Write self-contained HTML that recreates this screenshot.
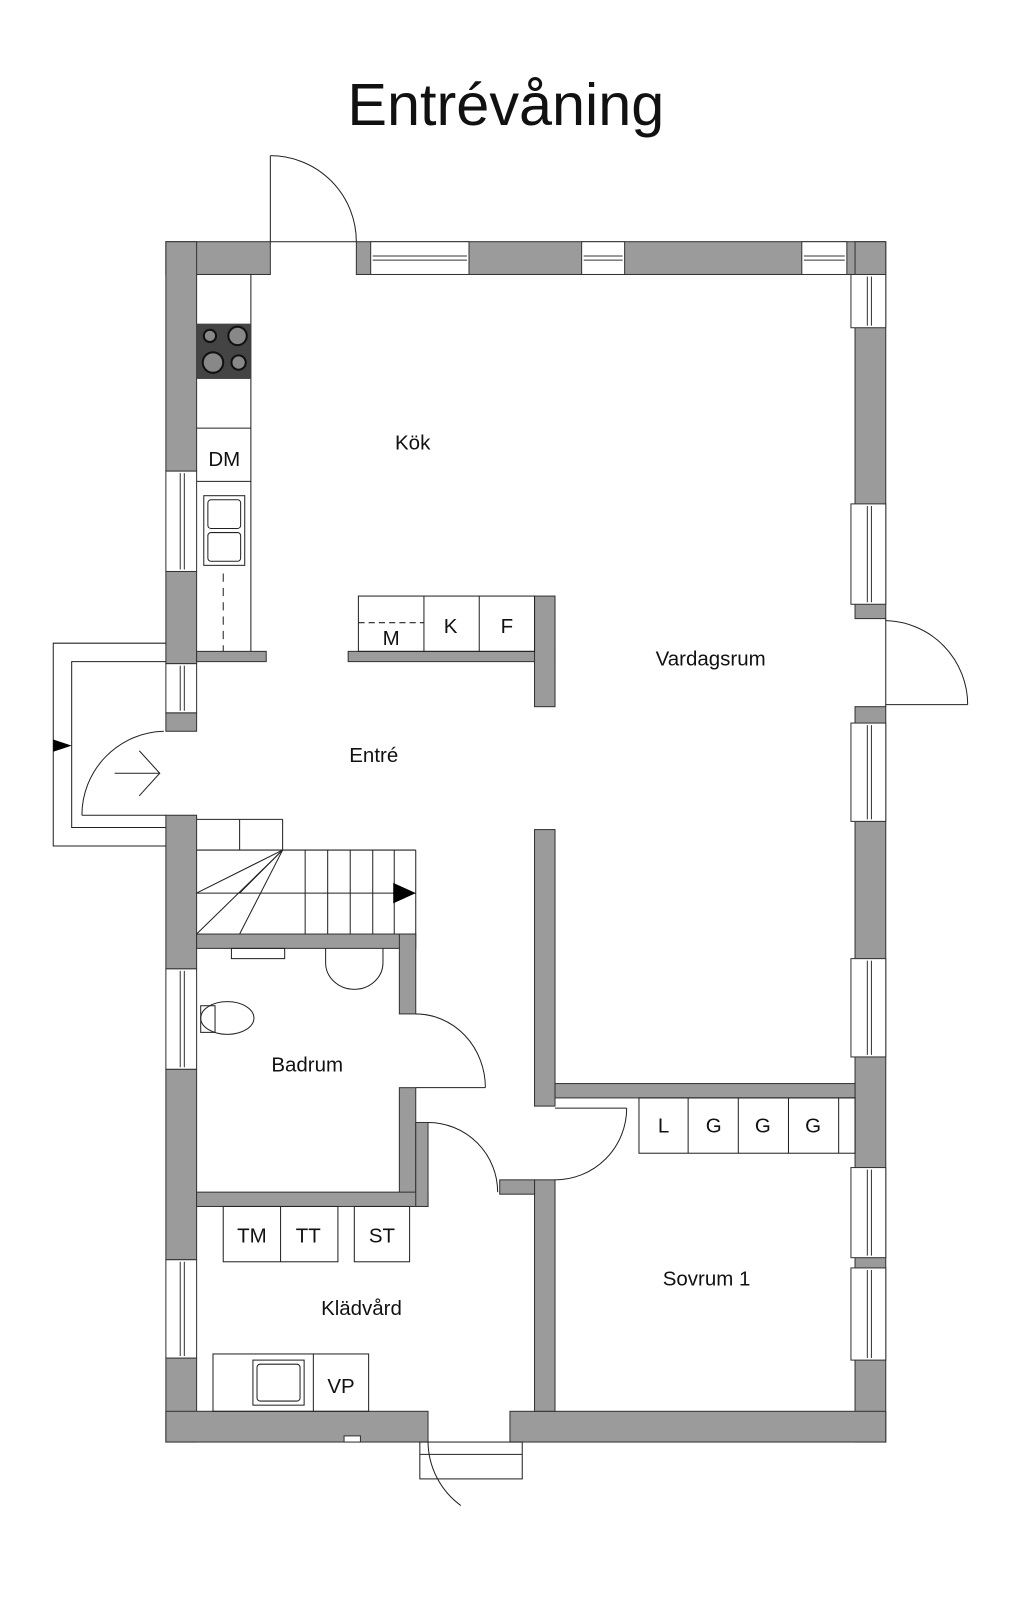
<!DOCTYPE html>
<html><head><meta charset="utf-8"><style>
html,body{margin:0;padding:0;background:#fff}
svg{display:block}
text{font-family:"Liberation Sans",sans-serif;fill:#111}
</style></head><body>
<svg width="1024" height="1610" viewBox="0 0 1000 1572" preserveAspectRatio="none" xmlns="http://www.w3.org/2000/svg">
<rect width="1000" height="1572" fill="#fff"/>
<text x="494" y="122" font-size="58" text-anchor="middle">Entrévåning</text>
<g fill="#9b9b9b" stroke="#333" stroke-width="1">
<rect x="162" y="236" width="102" height="32"/>
<rect x="348" y="236" width="517" height="32"/>
<rect x="162" y="236" width="30" height="224"/>
<rect x="162" y="558" width="30" height="90"/>
<rect x="162" y="696" width="30" height="18"/>
<rect x="162" y="796" width="30" height="150"/>
<rect x="162" y="1044" width="30" height="186"/>
<rect x="162" y="1326" width="30" height="82"/>
<rect x="835" y="236" width="30" height="368"/>
<rect x="835" y="690" width="30" height="718"/>
<rect x="162" y="1378" width="256" height="30"/>
<rect x="498" y="1378" width="367" height="30"/>
<rect x="192" y="636" width="68" height="10"/>
<rect x="340" y="636" width="202" height="10"/>
<rect x="522" y="582" width="20" height="108"/>
<rect x="522" y="810" width="20" height="270"/>
<rect x="542" y="1058" width="293" height="14"/>
<rect x="522" y="1152" width="20" height="226"/>
<rect x="488" y="1152" width="34" height="14"/>
<rect x="192" y="912" width="214" height="14"/>
<rect x="390" y="912" width="16" height="78"/>
<rect x="390" y="1062" width="16" height="104"/>
<rect x="192" y="1164" width="226" height="14"/>
<rect x="406" y="1096" width="12" height="82"/>
</g>
<g fill="#fff" stroke="#333" stroke-width="1">
<rect x="362" y="236" width="96" height="32"/><line x1="364" y1="250" x2="456" y2="250"/><line x1="364" y1="254" x2="456" y2="254"/>
<rect x="568" y="236" width="42" height="32"/><line x1="570" y1="250" x2="608" y2="250"/><line x1="570" y1="254" x2="608" y2="254"/>
<rect x="783" y="236" width="44" height="32"/><line x1="785" y1="250" x2="825" y2="250"/><line x1="785" y1="254" x2="825" y2="254"/>
<rect x="162" y="460" width="30" height="98"/><line x1="176" y1="462" x2="176" y2="556"/><line x1="180" y1="462" x2="180" y2="556"/>
<rect x="162" y="648" width="30" height="48"/><line x1="176" y1="650" x2="176" y2="694"/><line x1="180" y1="650" x2="180" y2="694"/>
<rect x="162" y="946" width="30" height="98"/><line x1="176" y1="948" x2="176" y2="1042"/><line x1="180" y1="948" x2="180" y2="1042"/>
<rect x="162" y="1230" width="30" height="96"/><line x1="176" y1="1232" x2="176" y2="1324"/><line x1="180" y1="1232" x2="180" y2="1324"/>
<rect x="831" y="268" width="34" height="52"/><line x1="847" y1="270" x2="847" y2="318"/><line x1="851" y1="270" x2="851" y2="318"/>
<rect x="831" y="492" width="34" height="98"/><line x1="847" y1="494" x2="847" y2="588"/><line x1="851" y1="494" x2="851" y2="588"/>
<rect x="831" y="706" width="34" height="96"/><line x1="847" y1="708" x2="847" y2="800"/><line x1="851" y1="708" x2="851" y2="800"/>
<rect x="831" y="936" width="34" height="96"/><line x1="847" y1="938" x2="847" y2="1030"/><line x1="851" y1="938" x2="851" y2="1030"/>
<rect x="831" y="1140" width="34" height="88"/><line x1="847" y1="1142" x2="847" y2="1226"/><line x1="851" y1="1142" x2="851" y2="1226"/>
<rect x="831" y="1238" width="34" height="90"/><line x1="847" y1="1240" x2="847" y2="1326"/><line x1="851" y1="1240" x2="851" y2="1326"/>
<rect x="336" y="1402" width="16" height="6"/>
</g>
<g fill="none" stroke="#222" stroke-width="1">
<line x1="264" y1="236" x2="348" y2="236"/>
<line x1="264" y1="236" x2="264" y2="152"/><path d="M264 152 A84 84 0 0 1 348 236"/>
<line x1="865" y1="604" x2="865" y2="690"/><line x1="865" y1="688" x2="945" y2="688"/><path d="M865 606 A82 82 0 0 1 945 688"/>
<path d="M406 990 A68 72 0 0 1 474 1062"/><line x1="406" y1="1062" x2="474" y2="1062"/>
<path d="M418 1096 A68 68 0 0 1 486 1164"/>
<path d="M542 1152 A70 70 0 0 0 612 1082"/><line x1="542" y1="1082" x2="612" y2="1082"/>
<path d="M160 714 A82 82 0 0 0 80 796"/><line x1="80" y1="796" x2="162" y2="796"/>
<line x1="112" y1="755" x2="156" y2="755"/><polyline points="136,733 156,755 136,777"/>
<polyline points="162,628 52,628 52,826 162,826"/>
<polyline points="162,646 70,646 70,808 162,808"/>
<rect x="410" y="1408" width="100" height="36"/><line x1="410" y1="1420" x2="510" y2="1420"/><path d="M418 1408 A78 78 0 0 0 450 1470"/>
<line x1="245" y1="268" x2="245" y2="636"/>
<line x1="192" y1="418" x2="245" y2="418"/>
<line x1="192" y1="470" x2="245" y2="470"/>
<line x1="218" y1="560" x2="218" y2="636" stroke-dasharray="8 6"/>
<rect x="199" y="484" width="40" height="68"/><rect x="203" y="488" width="32" height="28" rx="3"/><rect x="203" y="520" width="32" height="28" rx="3"/>
<rect x="350" y="582" width="172" height="54"/><line x1="414" y1="582" x2="414" y2="636"/><line x1="468" y1="582" x2="468" y2="636"/>
<line x1="350" y1="608" x2="414" y2="608" stroke-dasharray="6 4"/>
<line x1="192" y1="800" x2="276" y2="800"/><line x1="276" y1="800" x2="276" y2="830"/>
<line x1="192" y1="830" x2="406" y2="830"/><line x1="406" y1="830" x2="406" y2="912"/>
<line x1="192" y1="872" x2="406" y2="872"/>
<line x1="234" y1="800" x2="234" y2="830"/>
<line x1="276" y1="830" x2="192" y2="912"/><line x1="276" y1="830" x2="234" y2="912"/><line x1="276" y1="830" x2="192" y2="872"/><line x1="276" y1="830" x2="234" y2="872"/>
<line x1="298" y1="830" x2="298" y2="912"/><line x1="320" y1="830" x2="320" y2="912"/><line x1="342" y1="830" x2="342" y2="912"/><line x1="364" y1="830" x2="364" y2="912"/><line x1="385" y1="830" x2="385" y2="912"/>
<rect x="226" y="926" width="52" height="10"/>
<path d="M318 926 L318 940 A28 26 0 0 0 374 940 L374 926"/>
<ellipse cx="222" cy="994" rx="26" ry="16"/><rect x="196" y="982" width="14" height="26"/>
<rect x="218" y="1178" width="112" height="54"/><line x1="274" y1="1178" x2="274" y2="1232"/>
<rect x="346" y="1178" width="54" height="54"/>
<rect x="208" y="1322" width="152" height="56"/><line x1="306" y1="1322" x2="306" y2="1378"/>
<rect x="247" y="1328" width="50" height="44"/><rect x="251" y="1332" width="42" height="36" rx="3"/>
<rect x="624" y="1072" width="211" height="54"/><line x1="672" y1="1072" x2="672" y2="1126"/><line x1="721" y1="1072" x2="721" y2="1126"/><line x1="770" y1="1072" x2="770" y2="1126"/><line x1="819" y1="1072" x2="819" y2="1126"/>
</g>
<rect x="192" y="316" width="53" height="54" fill="#444"/>
<g fill="#888" stroke="#111" stroke-width="2"><circle cx="205" cy="328" r="6"/><circle cx="232" cy="328" r="9"/><circle cx="208" cy="354" r="10"/><circle cx="233" cy="354" r="7"/></g>
<polygon points="52,722 70,728 52,734" fill="#000"/>
<polygon points="384,862 406,872 384,882" fill="#000"/>
<g font-size="20">
<text x="403" y="439" text-anchor="middle">Kök</text>
<text x="219" y="455" text-anchor="middle">DM</text>
<text x="382" y="630" text-anchor="middle">M</text>
<text x="440" y="618" text-anchor="middle">K</text>
<text x="495" y="618" text-anchor="middle">F</text>
<text x="694" y="650" text-anchor="middle">Vardagsrum</text>
<text x="365" y="744" text-anchor="middle">Entré</text>
<text x="300" y="1046" text-anchor="middle">Badrum</text>
<text x="648" y="1106" text-anchor="middle">L</text>
<text x="697" y="1106" text-anchor="middle">G</text>
<text x="745" y="1106" text-anchor="middle">G</text>
<text x="794" y="1106" text-anchor="middle">G</text>
<text x="246" y="1213" text-anchor="middle">TM</text>
<text x="301" y="1213" text-anchor="middle">TT</text>
<text x="373" y="1213" text-anchor="middle">ST</text>
<text x="690" y="1255" text-anchor="middle">Sovrum 1</text>
<text x="353" y="1284" text-anchor="middle">Klädvård</text>
<text x="333" y="1360" text-anchor="middle">VP</text>
</g>
</svg>
</body></html>
